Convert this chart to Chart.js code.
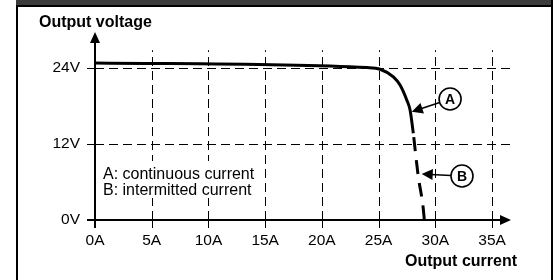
<!DOCTYPE html>
<html>
<head>
<meta charset="utf-8">
<script src="https://cdn.jsdelivr.net/npm/chart.js@4/dist/chart.umd.min.js"></script>
<style>
  html, body { margin: 0; padding: 0; background: #fff; }
</style>
</head>
<body>
<canvas id="chart" width="558" height="280"></canvas>
<script>
// tick values
const xTicks = [0, 5, 10, 15, 20, 25, 30, 35];
const yTicks = [0, 12, 24];

// A: continuous current (solid)
const curveAX = [0, 24, 25.13, 26.3, 26.89, 27.48, 27.77, 28.06];
const curveAY = [24.8, 24.06, 23.8, 22.6, 21.3, 18.95, 17.4, 13.7];

// B: intermitted current (dashed)
const curveBX = [28.06, 28.48, 28.92, 29.03];
const curveBY = [13.7, 7.1, 2.05, 0];

// callout circles and the point their arrows touch
const calloutLabels = ['A', 'B'];
const calloutX = [31.3, 32.35];
const calloutY = [19.1, 6.95];
const calloutTipX = [27.92, 28.8];
const calloutTipY = [17.1, 7.26];

const notes = ['A: continuous current', 'B: intermitted current'];

const FONT = 'Liberation Sans, Arial, Helvetica, sans-serif';

function toPoints(xs, ys) {
    return xs.map((x, i) => ({ x: x, y: ys[i] }));
}

function arrow(ctx, x1, y1, x2, y2, len, half) {
    const a = Math.atan2(y2 - y1, x2 - x1);
    ctx.beginPath();
    ctx.moveTo(x1, y1);
    ctx.lineTo(x2 - Math.cos(a) * len * 0.8, y2 - Math.sin(a) * len * 0.8);
    ctx.stroke();
    ctx.beginPath();
    ctx.moveTo(x2, y2);
    ctx.lineTo(x2 - Math.cos(a) * len - Math.sin(a) * half, y2 - Math.sin(a) * len + Math.cos(a) * half);
    ctx.lineTo(x2 - Math.cos(a) * len + Math.sin(a) * half, y2 - Math.sin(a) * len - Math.cos(a) * half);
    ctx.closePath();
    ctx.fill();
}

const drawing = {
    id: 'drawing',
    beforeDraw(chart) {
        const ctx = chart.ctx;
        ctx.save();
        ctx.fillStyle = '#3c3c3c';
        ctx.fillRect(16, 0, 537, 5);
        ctx.fillStyle = '#000';
        ctx.fillRect(16, 5, 537, 2);
        ctx.fillRect(16, 5, 2, 275);
        ctx.fillRect(551, 0, 2, 280);
        ctx.restore();
    },
    beforeDatasetsDraw(chart) {
        const ctx = chart.ctx;
        const xs = chart.scales.x, ys = chart.scales.y;
        const area = chart.chartArea;
        const x0 = Math.round(xs.getPixelForValue(0));
        const y0 = Math.round(ys.getPixelForValue(0));
        const gridTop = ys.getPixelForValue(26.8);
        ctx.save();
        ctx.strokeStyle = '#000';
        ctx.fillStyle = '#000';

        // dashed grid
        ctx.lineWidth = 1;
        ctx.setLineDash([9, 5]);
        xTicks.slice(1).forEach(v => {
            const px = Math.round(xs.getPixelForValue(v)) + 0.5;
            ctx.beginPath();
            ctx.moveTo(px, y0);
            ctx.lineTo(px, gridTop);
            ctx.stroke();
        });
        yTicks.slice(1).forEach(v => {
            const py = Math.round(ys.getPixelForValue(v)) + 0.5;
            ctx.beginPath();
            ctx.moveTo(x0, py);
            ctx.lineTo(area.right, py);
            ctx.stroke();
        });
        ctx.setLineDash([]);

        // white box behind the notes hides the grid there
        ctx.fillStyle = '#fff';
        ctx.fillRect(98, 161, 160, 37);
        ctx.fillStyle = '#000';

        // tick marks
        xTicks.forEach(v => {
            const px = Math.round(xs.getPixelForValue(v)) + 0.5;
            ctx.beginPath();
            ctx.moveTo(px, y0 - 5);
            ctx.lineTo(px, y0 + 8);
            ctx.stroke();
        });
        yTicks.slice(1).forEach(v => {
            const py = Math.round(ys.getPixelForValue(v)) + 0.5;
            ctx.beginPath();
            ctx.moveTo(x0 - 8, py);
            ctx.lineTo(x0 + 8, py);
            ctx.stroke();
        });

        // axes with arrow heads
        ctx.lineWidth = 2;
        ctx.beginPath();
        ctx.moveTo(x0 - 8, y0);
        ctx.lineTo(area.right - 8, y0);
        ctx.moveTo(x0, y0 + 8);
        ctx.lineTo(x0, area.top + 8);
        ctx.stroke();
        ctx.beginPath();
        ctx.moveTo(area.right, y0);
        ctx.lineTo(area.right - 11, y0 - 5);
        ctx.lineTo(area.right - 11, y0 + 5);
        ctx.closePath();
        ctx.fill();
        ctx.beginPath();
        ctx.moveTo(x0, area.top);
        ctx.lineTo(x0 - 5, area.top + 11);
        ctx.lineTo(x0 + 5, area.top + 11);
        ctx.closePath();
        ctx.fill();
        ctx.restore();
    },
    afterDatasetsDraw(chart) {
        const ctx = chart.ctx;
        const xs = chart.scales.x, ys = chart.scales.y;
        ctx.save();
        ctx.strokeStyle = '#000';
        ctx.fillStyle = '#000';

        // callouts
        calloutLabels.forEach((lab, i) => {
            const cx = xs.getPixelForValue(calloutX[i]);
            const cy = ys.getPixelForValue(calloutY[i]);
            const tx = xs.getPixelForValue(calloutTipX[i]);
            const ty = ys.getPixelForValue(calloutTipY[i]);
            const r = 11;
            ctx.lineWidth = 1.6;
            ctx.beginPath();
            ctx.arc(cx, cy, r, 0, Math.PI * 2);
            ctx.stroke();
            const a = Math.atan2(ty - cy, tx - cx);
            arrow(ctx, cx + Math.cos(a) * r, cy + Math.sin(a) * r, tx, ty, 11, 5.5);
            ctx.font = 'bold 14px ' + FONT;
            ctx.textAlign = 'center';
            ctx.textBaseline = 'middle';
            ctx.fillText(lab, cx, cy + 1);
        });

        // notes
        ctx.font = '16px ' + FONT;
        ctx.textAlign = 'left';
        ctx.textBaseline = 'alphabetic';
        ctx.fillText(notes[0], 103, 179);
        ctx.fillText(notes[1], 103, 195);

        // axis titles
        ctx.font = 'bold 16px ' + FONT;
        ctx.fillText('Output voltage', 39, 27);
        ctx.textAlign = 'right';
        ctx.fillText('Output current', 517, 266);
        ctx.restore();
    }
};

const ctx = document.getElementById('chart').getContext('2d');
const chart = new Chart(ctx, {
    type: 'scatter',
    data: {
        datasets: [
            {
                label: 'A',
                data: toPoints(curveAX, curveAY),
                showLine: true,
                borderColor: '#000',
                borderWidth: 3,
                pointRadius: 0,
                cubicInterpolationMode: 'monotone'
            },
            {
                label: 'B',
                data: toPoints(curveBX, curveBY),
                showLine: true,
                borderColor: '#000',
                borderWidth: 3,
                borderDash: [14, 9],
                borderDashOffset: -4,
                pointRadius: [0, 0, 0, 1.5],
                pointBackgroundColor: '#000',
                pointBorderWidth: 0,
                cubicInterpolationMode: 'monotone'
            }
        ]
    },
    options: {
        responsive: false,
        animation: false,
        layout: { padding: { left: 0, right: 47, top: 32, bottom: 0 } },
        plugins: {
            legend: { display: false },
            tooltip: { enabled: false }
        },
        scales: {
            x: {
                type: 'linear',
                min: 0,
                max: 36.67,
                afterBuildTicks: s => { s.ticks = xTicks.map(v => ({ value: v })); },
                afterFit: s => { s.height = 60; },
                grid: { display: false, drawTicks: false },
                border: { display: false },
                ticks: {
                    padding: 11,
                    color: '#000',
                    maxRotation: 0,
                    autoSkip: false,
                    font: { family: FONT, size: 15.5 },
                    callback: v => v + 'A'
                }
            },
            y: {
                type: 'linear',
                min: 0,
                max: 29.68,
                afterBuildTicks: s => { s.ticks = yTicks.map(v => ({ value: v })); },
                afterFit: s => { s.width = 95; },
                grid: { display: false, drawTicks: false },
                border: { display: false },
                ticks: {
                    padding: 15,
                    color: '#000',
                    font: { family: FONT, size: 15.5 },
                    callback: v => v + 'V'
                }
            }
        }
    },
    plugins: [drawing]
});
</script>
</body>
</html>
